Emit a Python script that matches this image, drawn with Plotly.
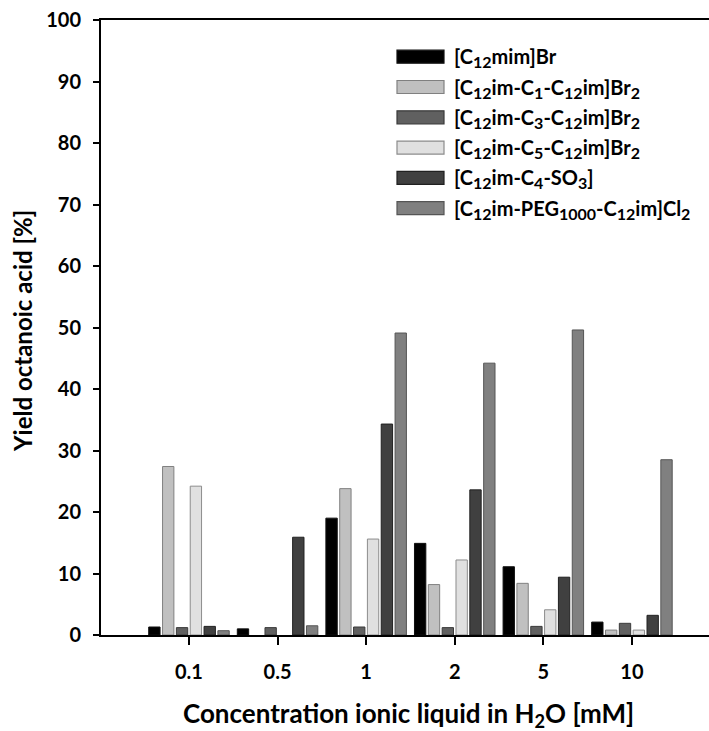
import plotly.graph_objects as go

# ---- data ----
categories = ["0.1", "0.5", "1", "2", "5", "10"]
SUB = '<sub><span style="font-size:16px">{}</span></sub>'
series_names = [
    "[C" + SUB.format("12") + "mim]Br",
    "[C" + SUB.format("12") + "im-C" + SUB.format("1") + "-C" + SUB.format("12") + "im]Br" + SUB.format("2"),
    "[C" + SUB.format("12") + "im-C" + SUB.format("3") + "-C" + SUB.format("12") + "im]Br" + SUB.format("2"),
    "[C" + SUB.format("12") + "im-C" + SUB.format("5") + "-C" + SUB.format("12") + "im]Br" + SUB.format("2"),
    "[C" + SUB.format("12") + "im-C" + SUB.format("4") + "-SO" + SUB.format("3") + "]",
    "[C" + SUB.format("12") + "im-PEG" + SUB.format("1000") + "-C" + SUB.format("12") + "im]Cl" + SUB.format("2"),
]
c12mim_br = [1.3, 1.0, 19.0, 14.9, 11.1, 2.1]
c1_br2 = [27.4, None, 23.8, 8.2, 8.4, 0.8]
c3_br2 = [1.2, 1.2, 1.3, 1.2, 1.4, 1.9]
c5_br2 = [24.2, None, 15.6, 12.2, 4.1, 0.8]
c4_so3 = [1.4, 15.9, 34.3, 23.6, 9.4, 3.2]
peg_cl2 = [0.7, 1.5, 49.1, 44.2, 49.6, 28.5]
series_values = [c12mim_br, c1_br2, c3_br2, c5_br2, c4_so3, peg_cl2]
y_ticks = list(range(0, 101, 10))

# ---- styles ----
fill_colors = ["#000000", "#c0c0c0", "#606060", "#e0e0e0", "#404040", "#808080"]
line_colors = ["#101010", "#808080", "#3a3a3a", "#8c8c8c", "#202020", "#555555"]
FONT = "Lato, 'Open Sans', sans-serif"

W, H = 709, 731
L, R, T, B = 101, 0, 20, 96
pw, ph = W - L - R, H - T - B

def px_x(x):
    return (x - L) / pw

def px_y(y):
    return (T + ph - y) / ph

fig = go.Figure()
for name, vals, fc, lc in zip(series_names, series_values, fill_colors, line_colors):
    fig.add_trace(go.Bar(
        x=categories, y=vals,
        marker=dict(color=fc, line=dict(color=lc, width=1)),
        showlegend=False,
    ))

# manual legend (wide swatches)
sw_x0, sw_x1, txt_x = 397, 444, 452
row0, row_step, sw_h = 56.7, 30.3, 13
for i, (name, fc, lc) in enumerate(zip(series_names, fill_colors, line_colors)):
    yc = row0 + i * row_step
    fig.add_shape(type="rect", xref="paper", yref="paper",
                  x0=px_x(sw_x0), x1=px_x(sw_x1),
                  y0=px_y(yc + sw_h / 2), y1=px_y(yc - sw_h / 2),
                  fillcolor=fc, line=dict(color=lc, width=1.2))
    fig.add_annotation(xref="paper", yref="paper",
                       x=px_x(txt_x), y=px_y(yc + 1),
                       xanchor="left", yanchor="middle", showarrow=False,
                       text="<b>" + name + "</b>",
                       font=dict(family=FONT, size=20, color="#000"))

# axis titles
fig.add_annotation(xref="paper", yref="paper", x=px_x(408), y=px_y(714),
                   xanchor="center", yanchor="middle", showarrow=False,
                   text="<b>Concentration ionic liquid in H<sub>2</sub>O [mM]</b>",
                   font=dict(family=FONT, size=26, color="#000"))
fig.add_annotation(xref="paper", yref="paper", x=px_x(23), y=px_y(331),
                   xanchor="center", yanchor="middle", showarrow=False, textangle=-90,
                   text="<b>Yield octanoic acid [%]</b>",
                   font=dict(family=FONT, size=24, color="#000"))

fig.update_layout(
    width=W, height=H,
    margin=dict(l=L, r=R, t=T, b=B, autoexpand=False),
    paper_bgcolor="white", plot_bgcolor="white",
    barmode="group", bargap=0.063, bargroupgap=0.18,
    font=dict(family=FONT, color="#000"),
    showlegend=False,
)
fig.update_xaxes(
    type="category", range=[-0.993, 5.87],
    showline=True, linecolor="#000", linewidth=2, mirror=True,
    ticks="outside", ticklen=8, tickwidth=2, tickcolor="#000",
    ticklabelstandoff=10,
    showgrid=False, zeroline=False,
    tickfont=dict(family=FONT, size=20, color="#000", weight="bold"),
)
fig.update_yaxes(
    range=[0, 100], tickvals=y_ticks,
    showline=True, linecolor="#000", linewidth=2, mirror=False,
    ticks="outside", ticklen=6, tickwidth=2, tickcolor="#000",
    ticklabelstandoff=8,
    showgrid=False, zeroline=False,
    tickfont=dict(family=FONT, size=20, color="#000", weight="bold"),
)

fig.write_html("out.html")
